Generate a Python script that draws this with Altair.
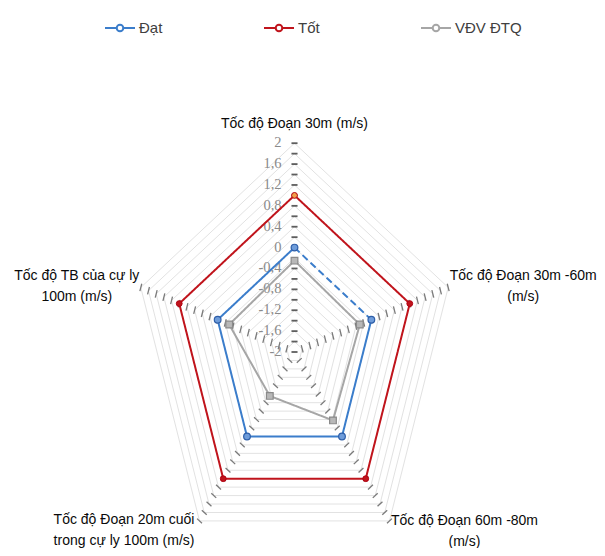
import math
import altair as alt
import pandas as pd

# ---------------- data ----------------
categories = [
    "Tốc độ Đoạn 30m (m/s)",
    "Tốc độ Đoạn 30m -60m\n(m/s)",
    "Tốc độ Đoạn 60m -80m\n(m/s)",
    "Tốc độ Đoạn 20m cuối\ntrong cự ly 100m  (m/s)",
    "Tốc độ TB của cự ly\n100m (m/s)",
]
series_names = ["Đạt", "Tốt", "VĐV ĐTQ"]
dat_values = [0.0, 0.0, 0.0, 0.0, 0.0]
tot_values = [1.0, 1.0, 1.0, 1.0, 1.0]
vdv_values = [-0.25, -0.3, -0.38, -0.96, -0.3]
tick_values = [2, 1.6, 1.2, 0.8, 0.4, 0, -0.4, -0.8, -1.2, -1.6, -2]
tick_labels = ["2", "1,6", "1,2", "0,8", "0,4", "0", "-0,4", "-0,8", "-1,2", "-1,6", "-2"]
axis_min, axis_max, minor_step = -2.0, 2.0, 0.2

# ---------------- layout / style ----------------
W, H = 589, 540
CX, CY = 286.5, 344.0          # centre of the radar (plot coords)
PX_X, PX_Y = 40.4, 52.2        # pixels per unit (picture is stretched vertically)
xscale = alt.Scale(domain=[-CX / PX_X, (W - CX) / PX_X], nice=False, zero=False)
yscale = alt.Scale(domain=[-(H - CY) / PX_Y, CY / PX_Y], nice=False, zero=False)

line_colors = ["#3B7DCB", "#C0141C", "#A6A6A6"]
SANS = "Liberation Sans, Arial, sans-serif"
SERIF = "Liberation Serif, Times New Roman, serif"
label_offsets = [(0, -15, "center"), (75, -7.5, "center"), (75, 4, "center"),
                 (-75.5, 3, "center"), (-64, -7.5, "center")]
TICK_HALF = 0.075

N = len(categories)


def ang(i):
    return math.radians(90 - 360.0 * i / N)


def polar(v, i):
    r = v - axis_min
    return r * math.cos(ang(i)), r * math.sin(ang(i))


def X(f="x"):
    return alt.X(f"{f}:Q", scale=xscale, axis=None)


def Y(f="y"):
    return alt.Y(f"{f}:Q", scale=yscale, axis=None)


n_levels = int(round((axis_max - axis_min) / minor_step))
levels = [round(axis_min + k * minor_step, 6) for k in range(n_levels + 1)]

# grid rings
ring_rows = []
for k, lv in enumerate(levels[1:], start=1):
    for j, i in enumerate(list(range(N)) + [0]):
        x, y = polar(lv, i)
        ring_rows.append({"ring": k, "ord": j, "x": x, "y": y})
rings = alt.Chart(pd.DataFrame(ring_rows)).mark_line(
    color="#E2E2E2", strokeWidth=1
).encode(x=X(), y=Y(), detail="ring:N", order="ord:Q")

# tick marks on every spoke
tick_rows = []
for i in range(N):
    a = ang(i)
    px, py = -math.sin(a), math.cos(a)
    for lv in (levels if i == 0 else levels[1:]):
        x, y = polar(lv, i)
        tick_rows.append({"spoke": i, "x": x - px * TICK_HALF, "y": y - py * TICK_HALF,
                          "x2": x + px * TICK_HALF, "y2": y + py * TICK_HALF})
tick_df = pd.DataFrame(tick_rows)
ticks_main = alt.Chart(tick_df[tick_df.spoke == 0]).mark_rule(
    color="#5E5E5E", strokeWidth=1.8
).encode(x=X(), y=Y(), x2="x2:Q", y2="y2:Q")
ticks_other = alt.Chart(tick_df[tick_df.spoke != 0]).mark_rule(
    color="#7A7A7A", strokeWidth=1.3
).encode(x=X(), y=Y(), x2="x2:Q", y2="y2:Q")

# value labels on the first axis
tl_rows = []
for v, t in zip(tick_values, tick_labels):
    x, y = polar(v, 0)
    tl_rows.append({"x": x, "y": y, "t": t})
tick_text = alt.Chart(pd.DataFrame(tl_rows)).mark_text(
    align="right", baseline="middle", dx=-13, font=SERIF, fontSize=14.5, color="#8A8A8A"
).encode(x=X(), y=Y(), text="t:N")

# series lines
all_values = [dat_values, tot_values, vdv_values]
line_rows, point_rows = [], []
for s, vals in zip(series_names, all_values):
    if s == "Đạt":
        paths = [(s + "-a", [0, 1], True), (s + "-b", [1, 2, 3, 4, 0], False)]
    else:
        paths = [(s, [0, 1, 2, 3, 4, 0], False)]
    for pid, idxs, dash in paths:
        for j, i in enumerate(idxs):
            x, y = polar(vals[i], i)
            line_rows.append({"series": s, "path": pid, "ord": j, "x": x, "y": y,
                              "dash": "d" if dash else "s"})
    for i in range(N):
        x, y = polar(vals[i], i)
        point_rows.append({"series": s, "idx": i, "x": x, "y": y})

legend_path = ("M-1,0L-0.22,0M0.22,0L1,0M0.22,0A0.22,0.22,0,1,1,-0.22,0"
               "A0.22,0.22,0,1,1,0.22,0Z")

lines = alt.Chart(pd.DataFrame(line_rows)).mark_line(strokeWidth=2).encode(
    x=X(), y=Y(), detail="path:N", order="ord:Q",
    color=alt.Color("series:N",
                    scale=alt.Scale(domain=series_names, range=line_colors),
                    legend=alt.Legend(title=None, orient="none", legendX=96, legendY=4,
                                      direction="horizontal", columns=3,
                                      symbolType=legend_path, symbolSize=900,
                                      symbolStrokeWidth=2, labelFont=SANS,
                                      labelFontSize=15, labelColor="#404040",
                                      labelOffset=3, columnPadding=97, labelLimit=300)),
    strokeDash=alt.StrokeDash("dash:N", scale=alt.Scale(domain=["s", "d"],
                                                        range=[[1, 0], [7, 4]]),
                              legend=None),
)

pts = pd.DataFrame(point_rows)
p_dat = alt.Chart(pts[pts.series == "Đạt"]).mark_point(
    shape="circle", size=45, filled=True, fill="#6E9CDA", stroke="#2E5EA8",
    strokeWidth=1.2, opacity=1
).encode(x=X(), y=Y())
p_tot = alt.Chart(pts[pts.series == "Tốt"]).mark_point(
    shape="circle", size=34, filled=True, stroke="#B00010", strokeWidth=1, opacity=1
).encode(x=X(), y=Y(),
         fill=alt.condition("datum.idx == 0", alt.value("#F2A04A"), alt.value("#C0141C")))
p_vdv = alt.Chart(pts[pts.series == "VĐV ĐTQ"]).mark_point(
    shape="square", size=45, filled=True, fill="#B8B8B8", stroke="#8A8A8A",
    strokeWidth=1.2, opacity=1
).encode(x=X(), y=Y())

label_layers = []
for i, (txt, (dx, dy, al)) in enumerate(zip(categories, label_offsets)):
    x, y = polar(axis_max, i)
    label_layers.append(
        alt.Chart(pd.DataFrame([{"x": x, "y": y, "t": txt}])).mark_text(
            align=al, baseline="alphabetic", dx=dx, dy=dy, lineBreak="\n",
            lineHeight=21, font=SANS, fontSize=14, color="#0A0A0A"
        ).encode(x=X(), y=Y(), text="t:N")
    )

chart = alt.layer(rings, ticks_other, ticks_main, tick_text, lines, p_dat, p_tot,
                  p_vdv, *label_layers).properties(
    width=W, height=H, autosize=alt.AutoSizeParams(type="none"), padding=0,
    background="white"
).configure_view(stroke=None)

chart.save("out.html", embed_options={"renderer": "svg", "actions": False})
